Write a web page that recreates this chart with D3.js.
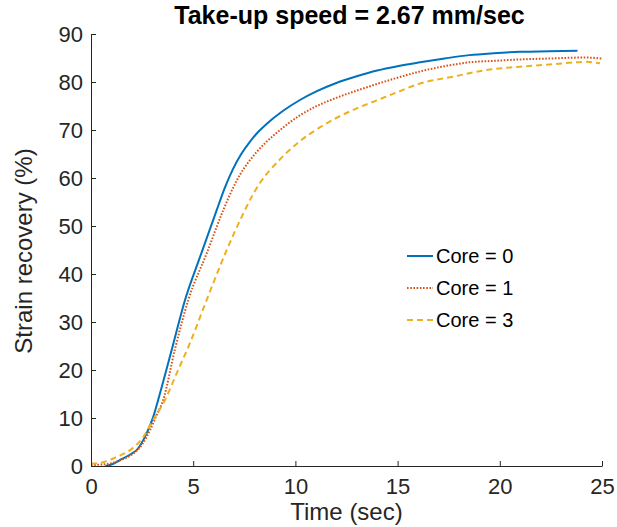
<!DOCTYPE html>
<html><head><meta charset="utf-8">
<script src="https://cdn.jsdelivr.net/npm/d3@7"></script>
<style>body{margin:0;background:#fff}svg{display:block}text{font-family:"Liberation Sans",Arial,sans-serif}</style>
</head><body>
<svg id="c" width="617" height="527"></svg>
<script>
const title = "Take-up speed = 2.67 mm/sec";
const xLabel = "Time (sec)";
const yLabel = "Strain recovery (%)";
const xTicks = [0, 5, 10, 15, 20, 25];
const yTicks = [0, 10, 20, 30, 40, 50, 60, 70, 80, 90];
const seriesNames = ["Core = 0", "Core = 1", "Core = 3"];

const core0T = [0.7, 1.0, 1.42, 2.0, 2.23, 2.72, 3.05, 3.38, 3.95, 4.6, 5.33, 6.15, 6.55, 6.95, 7.35, 7.78, 8.2, 8.6, 9.4, 10.2, 11, 12, 13, 14, 15, 16.1, 17.3, 18.5, 19.7, 21, 22.4, 23.8];
const core0V = [0, 0.3, 1.25, 2.6, 3.3, 6.8, 10.3, 15.2, 24.2, 34.6, 43.5, 53.3, 58.0, 61.9, 65.0, 67.6, 69.7, 71.3, 74.0, 76.2, 78, 79.8, 81.2, 82.4, 83.3, 84.1, 84.9, 85.6, 86, 86.3, 86.4, 86.5];

const core1T = [0, 0.5, 1.0, 1.5, 2.0, 2.5, 2.89, 3.2, 3.53, 4.1, 4.76, 5.66, 6.47, 6.9, 7.29, 7.7, 8.1, 8.6, 9.08, 10.2, 11, 12, 13, 14, 15, 16.1, 17.3, 18.5, 19.7, 21, 22.5, 24.1, 25];
const core1V = [0.2, 0.3, 0.6, 1.3, 2.4, 4.5, 7.5, 10.5, 13.75, 24.2, 34.6, 44.3, 53.3, 57.5, 60.7, 63.3, 65.4, 67.6, 69.4, 73.0, 74.9, 76.7, 78.2, 79.6, 80.9, 82.2, 83.3, 84.1, 84.4, 84.7, 84.9, 85.1, 84.9];

const core3T = [0, 0.6, 1.26, 1.91, 2.55, 3.04, 3.62, 4.19, 4.84, 5.66, 6.64, 7.45, 7.85, 8.27, 8.75, 9.25, 10.2, 11, 12, 13, 14, 15, 16.1, 17.7, 19.36, 21, 22.6, 24.25, 24.9];
const core3V = [0.5, 0.8, 1.9, 3.3, 6.0, 9.6, 13.75, 19.3, 25.6, 34.6, 45, 52.6, 56.0, 59.0, 61.6, 63.9, 67.6, 70, 72.5, 74.5, 76.2, 77.9, 79.7, 81.1, 82.5, 83.2, 83.7, 84.2, 83.9];

const series = [
  {name: seriesNames[0], t: core0T, v: core0V, color: "#0072BD", dash: null, w: 2},
  {name: seriesNames[1], t: core1T, v: core1V, color: "#D95319", dash: "1.6,1.6", w: 2},
  {name: seriesNames[2], t: core3T, v: core3V, color: "#EDB120", dash: "6,4", w: 2}
];

const svg = d3.select("#c");
const L = 91, R = 602, T = 34, B = 466;
const x = d3.scaleLinear().domain([0, 25]).range([L, R]);
const y = d3.scaleLinear().domain([0, 90]).range([B, T]);
const axisColor = "#262626";

// curves
const line = d3.line().x(d => x(d[0])).y(d => y(d[1])).curve(d3.curveMonotoneX);
series.forEach(s => {
  const pts = s.t.map((t, i) => [t, s.v[i]]);
  svg.append("path").attr("d", line(pts)).attr("fill", "none")
    .attr("stroke", s.color).attr("stroke-width", s.w)
    .attr("stroke-dasharray", s.dash);
});

// axes
const xAxis = d3.axisBottom(x).tickValues(xTicks).tickSizeInner(-5).tickSizeOuter(0).tickPadding(12);
const yAxis = d3.axisLeft(y).tickValues(yTicks).tickSizeInner(-5).tickSizeOuter(0).tickPadding(12);
const gx = svg.append("g").attr("transform", `translate(0,${B})`).call(xAxis);
const gy = svg.append("g").attr("transform", `translate(${L},0)`).call(yAxis);
[gx, gy].forEach(g => {
  g.select(".domain").attr("stroke", axisColor).attr("stroke-width", 1);
  g.selectAll(".tick line").attr("stroke", axisColor).attr("stroke-width", 1);
  g.selectAll(".tick text").attr("fill", axisColor).style("font-size", "22px")
    .style("font-family", "Liberation Sans, Arial, sans-serif");
});
gx.selectAll(".tick text").attr("dy", null).attr("y", 28);
gy.selectAll(".tick text").attr("x", -8).attr("dy", "0.35em");

// labels
svg.append("text").attr("x", (L + R) / 2).attr("y", 520).attr("text-anchor", "middle")
  .attr("fill", axisColor).style("font-size", "24px").text(xLabel);
svg.append("text").attr("transform", `translate(32,${(T + B) / 2 + 1}) rotate(-90)`)
  .attr("text-anchor", "middle").attr("fill", axisColor).style("font-size", "24px").text(yLabel);
svg.append("text").attr("x", (L + R) / 2 + 3).attr("y", 24).attr("text-anchor", "middle")
  .attr("fill", "#000").style("font-size", "25px").style("font-weight", "bold").text(title);

// legend
const lg = svg.append("g");
series.forEach((s, i) => {
  const yy = 256 + i * 32;
  lg.append("line").attr("x1", 407).attr("x2", 433).attr("y1", yy).attr("y2", yy)
    .attr("stroke", s.color).attr("stroke-width", s.w).attr("stroke-dasharray", s.dash);
  lg.append("text").attr("x", 436).attr("y", yy).attr("dy", "0.35em")
    .attr("fill", "#000").style("font-size", "20px").text(s.name);
});
</script>
</body></html>
